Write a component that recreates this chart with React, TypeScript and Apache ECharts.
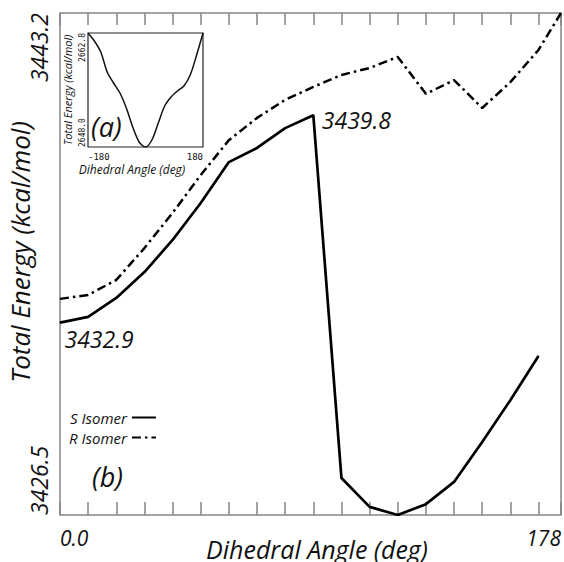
import React, { useEffect, useRef } from 'react';
import * as echarts from 'echarts';

// ---- Data ----
const angles = [0, 10, 20, 30, 40, 50, 60, 70, 80, 90, 100, 110, 120, 130, 140, 150, 160, 170];
const sIsomer = [3432.9, 3433.09, 3433.72, 3434.58, 3435.65, 3436.88, 3438.24, 3438.71, 3439.37, 3439.8,
  3427.73, 3426.77, 3426.5, 3426.86, 3427.6, 3428.93, 3430.32, 3431.79];
const rAngles = [0, 10, 20, 30, 40, 50, 60, 70, 80, 90, 100, 110, 120, 130, 140, 150, 160, 170, 178];
const rIsomer = [3433.69, 3433.82, 3434.32, 3435.38, 3436.55, 3437.81, 3438.97, 3439.71, 3440.31, 3440.74,
  3441.14, 3441.37, 3441.74, 3440.51, 3440.97, 3440.04, 3440.9, 3441.97, 3443.2];
const labeledS = [0, 9]; // indices of S points carrying value labels

const insetAngles = [-180, -160, -140, -120, -100, -80, -60, -40, -20, 0, 20, 40, 60, 80, 100, 120, 140, 160, 180];
const insetEnergy = [2662.8, 2661.76, 2660.33, 2657.74, 2656.31, 2655.01, 2653.06, 2650.6, 2648.65, 2648.0,
  2648.91, 2651.12, 2653.32, 2654.49, 2655.27, 2655.92, 2657.35, 2659.94, 2662.8];

const mainXTickLabels = ['0.0', '178'];
const mainYTickLabels = ['3426.5', '3443.2'];
const insetXTickLabels = ['-180', '180'];
const insetYTickLabels = ['2648.0', '2662.8'];

const seriesNames = ['S Isomer', 'R Isomer'];

const FONT = '"Open Sans", "Noto Sans", sans-serif';
const MONO = '"DejaVu Sans Mono", "Liberation Mono", monospace';
const GRAY = '#858585';
const INK = '#111111';

const endsFormatter = (labels: string[]) => {
  const lo = parseFloat(labels[0]);
  const hi = parseFloat(labels[1]);
  return (v: number) => (Math.abs(v - lo) < 1e-6 ? labels[0] : Math.abs(v - hi) < 1e-6 ? labels[1] : '');
};

const measure = (text: string, font: string): number => {
  const ctx = document.createElement('canvas').getContext('2d');
  if (!ctx) return text.length * 12;
  ctx.font = font;
  return ctx.measureText(text).width;
};

export default function App() {
  const ref = useRef<HTMLDivElement>(null);

  useEffect(() => {
    if (!ref.current) return;
    const chart = echarts.init(ref.current, undefined, { renderer: 'svg' });

    const xMin = parseFloat(mainXTickLabels[0]);
    const xMax = parseFloat(mainXTickLabels[1]);
    const yMin = parseFloat(mainYTickLabels[0]);
    const yMax = parseFloat(mainYTickLabels[1]);
    const ixMin = parseFloat(insetXTickLabels[0]);
    const ixMax = parseFloat(insetXTickLabels[1]);
    const iyMin = parseFloat(insetYTickLabels[0]);
    const iyMax = parseFloat(insetYTickLabels[1]);

    const sData = angles.map((a, i) => {
      const item: any = { value: [a, sIsomer[i]] };
      if (labeledS.includes(i)) {
        item.label = {
          show: true,
          formatter: sIsomer[i].toFixed(1),
          position: i === 0 ? [5, 5] : [9, -6],
          align: 'left',
          verticalAlign: 'top',
          fontFamily: FONT,
          fontStyle: 'italic',
          fontSize: 23,
          color: INK,
        };
      }
      return item;
    });

    const option: any = {
      animation: false,
      backgroundColor: '#ffffff',
      grid: [
        {
          left: 60, top: 13, width: 501, height: 502,
          show: true, borderColor: GRAY, borderWidth: 1.5, backgroundColor: 'transparent',
          containLabel: false, outerBoundsMode: 'none',
        },
        {
          left: 88, top: 33, width: 115, height: 114,
          show: true, borderColor: '#222', borderWidth: 1.2, backgroundColor: 'transparent',
          containLabel: false, outerBoundsMode: 'none',
        },
      ],
      xAxis: [
        {
          type: 'value', gridIndex: 0, position: 'bottom', min: xMin, max: xMax, interval: 10,
          axisLine: { show: false }, splitLine: { show: false },
          axisTick: { show: true, inside: true, length: 13, lineStyle: { color: GRAY, width: 1.5 } },
          axisLabel: {
            show: true, formatter: endsFormatter(mainXTickLabels), showMinLabel: true, showMaxLabel: true,
            alignMinLabel: 'left', alignMaxLabel: 'right', margin: 12,
            fontFamily: FONT, fontStyle: 'italic', fontSize: 21, color: INK,
          },
          name: 'Dihedral Angle (deg)', nameLocation: 'middle', nameGap: 21, nameMoveOverlap: false,
          nameTextStyle: { fontFamily: FONT, fontStyle: 'italic', fontSize: 25, color: INK, padding: [0, 0, 0, 13] },
        },
        {
          type: 'value', gridIndex: 0, position: 'top', min: xMin, max: xMax, interval: 10,
          axisLine: { show: false }, splitLine: { show: false },
          axisTick: { show: true, inside: true, length: 12, lineStyle: { color: GRAY, width: 1.5 } },
          axisLabel: { show: false },
        },
        {
          type: 'value', gridIndex: 1, min: ixMin, max: ixMax, interval: 180,
          axisLine: { show: false }, splitLine: { show: false }, axisTick: { show: false },
          axisLabel: {
            show: true, formatter: endsFormatter(insetXTickLabels), showMinLabel: true, showMaxLabel: true,
            alignMinLabel: 'left', alignMaxLabel: 'right', margin: 5,
            fontFamily: MONO, fontSize: 9, color: INK,
          },
          name: 'Dihedral Angle (deg)', nameLocation: 'middle', nameGap: 16, nameMoveOverlap: false,
          nameTextStyle: { fontFamily: FONT, fontStyle: 'italic', fontSize: 12, color: INK, padding: [0, 27, 0, 0] },
        },
      ],
      yAxis: [
        {
          type: 'value', gridIndex: 0, min: yMin, max: yMax,
          axisLine: { show: false }, axisTick: { show: false }, splitLine: { show: false },
          axisLabel: { show: false },
          name: 'Total Energy (kcal/mol)', nameLocation: 'middle', nameGap: 27, nameMoveOverlap: false,
          nameTextStyle: { fontFamily: FONT, fontStyle: 'italic', fontSize: 26, color: INK, padding: [0, 0, 0, 24] },
        },
        {
          type: 'value', gridIndex: 1, min: iyMin, max: iyMax,
          axisLine: { show: false }, axisTick: { show: false }, splitLine: { show: false },
          axisLabel: { show: false },
          name: 'Total Energy (kcal/mol)', nameLocation: 'middle', nameGap: 15, nameMoveOverlap: false,
          nameTextStyle: { fontFamily: FONT, fontStyle: 'italic', fontSize: 11, color: INK },
        },
      ],
      legend: {
        data: seriesNames,
        orient: 'vertical', left: 64, top: 405, align: 'right',
        itemWidth: 24, itemHeight: 14, itemGap: 5,
        itemStyle: { opacity: 0 },
        textStyle: { fontFamily: FONT, fontStyle: 'italic', fontSize: 15, color: INK },
      },
      series: [
        {
          name: seriesNames[0], type: 'line', xAxisIndex: 0, yAxisIndex: 0,
          data: sData, symbol: 'circle', symbolSize: 1, showSymbol: true,
          itemStyle: { color: '#000' },
          lineStyle: { color: '#000', width: 2.7 }, z: 3,
        },
        {
          name: seriesNames[1], type: 'line', xAxisIndex: 0, yAxisIndex: 0,
          data: rAngles.map((a, i) => [a, rIsomer[i]]), symbol: 'none',
          itemStyle: { color: '#000' },
          lineStyle: { color: '#000', width: 2.5, type: [9, 4, 2.5, 4] }, z: 2,
        },
        {
          name: 'inset', type: 'line', xAxisIndex: 2, yAxisIndex: 1,
          data: insetAngles.map((a, i) => [a, insetEnergy[i]]), symbol: 'none', smooth: 0.3,
          lineStyle: { color: '#111', width: 1.5 },
        },
      ],
    };

    chart.setOption(option);

    // Rotated y tick labels at the axis ends, placed through the axes' own scales.
    // Min label starts at the bottom end; max label ends at the top end (reads upward).
    const mainLo = chart.convertToPixel({ gridIndex: 0 }, [xMin, yMin]) as number[];
    const mainHi = chart.convertToPixel({ gridIndex: 0 }, [xMin, yMax]) as number[];
    const insLo = chart.convertToPixel({ gridIndex: 1 }, [ixMin, iyMin]) as number[];
    const insHi = chart.convertToPixel({ gridIndex: 1 }, [ixMin, iyMax]) as number[];
    const mainFont = `italic 23px ${FONT}`;
    const insFont = `8px ${MONO}`;
    const mainHiLen = measure(mainYTickLabels[1], mainFont);
    const insHiLen = measure(insetYTickLabels[1], insFont);
    const rot = Math.PI / 2;
    const rotText = (x: number, y: number, text: string, font: string) => ({
      type: 'text', x, y, rotation: rot,
      style: { text, font, fill: INK, align: 'left', verticalAlign: 'bottom' },
    });
    chart.setOption({
      graphic: [
        rotText(mainLo[0] - 10, mainLo[1], mainYTickLabels[0], mainFont),
        rotText(mainHi[0] - 10, mainHi[1] + mainHiLen, mainYTickLabels[1], mainFont),
        rotText(insLo[0] - 2, insLo[1], insetYTickLabels[0], insFont),
        rotText(insHi[0] - 2, insHi[1] + insHiLen, insetYTickLabels[1], insFont),
        { type: 'text', left: 91, top: 113, style: { text: '(a)', font: `italic 27px ${FONT}`, fill: INK } },
        { type: 'text', left: 92, top: 463, style: { text: '(b)', font: `italic 27px ${FONT}`, fill: INK } },
      ],
    });

    return () => chart.dispose();
  }, []);

  return <div ref={ref} style={{ position: 'fixed', left: 0, top: 0, width: 564, height: 562, background: '#fff' }} />;
}
